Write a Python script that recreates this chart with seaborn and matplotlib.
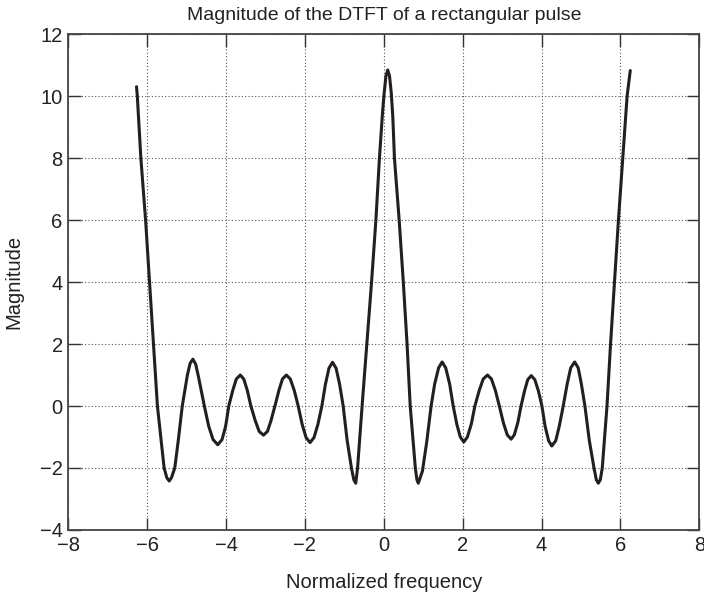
import matplotlib
matplotlib.use("Agg")
import matplotlib.pyplot as plt
import seaborn as sns
import pandas as pd

# Points (normalized frequency, magnitude)
freq = [
    -6.27, -6.25, -6.16, -6.04, -5.94, -5.84, -5.74, -5.57, -5.50, -5.44, -5.38, -5.30, -5.21, -5.11,
    -4.98, -4.91, -4.84, -4.77, -4.70, -4.55,
    -4.44, -4.33, -4.21, -4.10, -4.01, -3.93,
    -3.83, -3.74, -3.64, -3.55, -3.46, -3.37,
    -3.26, -3.16, -3.05, -2.95, -2.86, -2.76,
    -2.66, -2.57, -2.47, -2.37, -2.27, -2.17,
    -2.07, -1.97, -1.87, -1.77, -1.67, -1.57,
    -1.48, -1.39, -1.30, -1.21, -1.12, -1.03,
    -0.93, -0.82, -0.76, -0.71, -0.665, -0.55, -0.43, -0.31, -0.20, -0.11, -0.03, 0.01, 0.055, 0.10,
    0.145, 0.19, 0.23, 0.27, 0.39, 0.495, 0.59, 0.67, 0.80, 0.84, 0.875, 0.98, 1.09, 1.20,
    1.29, 1.39, 1.48, 1.57, 1.67, 1.76,
    1.85, 1.94, 2.03, 2.12, 2.22, 2.31,
    2.42, 2.52, 2.63, 2.73, 2.83, 2.93,
    3.03, 3.13, 3.23, 3.31, 3.40, 3.48,
    3.57, 3.65, 3.74, 3.83, 3.92, 4.01,
    4.09, 4.18, 4.26, 4.36, 4.45, 4.55,
    4.65, 4.74, 4.84, 4.93, 5.01, 5.10,
    5.21, 5.33, 5.39, 5.44, 5.49, 5.54, 5.66, 5.75, 5.85, 5.95, 6.06, 6.17, 6.25,
]
magnitude = [
    10.30, 10.00, 8.00, 6.00, 4.00, 2.00, 0.00, -2.00, -2.32, -2.42, -2.30, -2.00, -1.10, 0.00,
    1.00, 1.38, 1.51, 1.35, 0.95, 0.00,
    -0.65, -1.08, -1.25, -1.08, -0.65, 0.00,
    0.50, 0.87, 1.00, 0.87, 0.50, 0.00,
    -0.47, -0.82, -0.94, -0.82, -0.47, 0.00,
    0.50, 0.87, 1.00, 0.87, 0.50, 0.00,
    -0.59, -1.02, -1.18, -1.02, -0.59, 0.00,
    0.70, 1.22, 1.41, 1.22, 0.70, 0.00,
    -1.10, -2.00, -2.38, -2.49, -2.00, 0.00, 2.00, 4.00, 6.00, 8.00, 9.50, 10.10, 10.65, 10.84,
    10.65, 10.10, 9.30, 8.00, 6.00, 4.00, 2.00, 0.00, -2.00, -2.38, -2.49, -2.10, -1.15, 0.00,
    0.71, 1.23, 1.42, 1.23, 0.71, 0.00,
    -0.58, -1.00, -1.16, -1.00, -0.58, 0.00,
    0.50, 0.87, 1.00, 0.87, 0.50, 0.00,
    -0.53, -0.93, -1.07, -0.93, -0.53, 0.00,
    0.49, 0.85, 0.98, 0.85, 0.49, 0.00,
    -0.65, -1.12, -1.29, -1.12, -0.65, 0.00,
    0.71, 1.23, 1.42, 1.23, 0.71, 0.00,
    -1.10, -2.00, -2.38, -2.49, -2.38, -2.00, 0.00, 2.00, 4.00, 6.00, 8.00, 10.00, 10.82,
]
x_ticks = [-8, -6, -4, -2, 0, 2, 4, 6, 8]
y_ticks = [-4, -2, 0, 2, 4, 6, 8, 10, 12]

df = pd.DataFrame({"freq": freq, "mag": magnitude})

sns.set_style("white")
plt.rcParams["font.family"] = ["Liberation Sans", "DejaVu Sans"]

fig = plt.figure(figsize=(7.04, 5.99), dpi=100)
ax = fig.add_axes([0.097, 0.1152, 0.8963, 0.828])

sns.lineplot(data=df, x="freq", y="mag", sort=False, color="#231f20",
             linewidth=2.2, ax=ax, estimator=None)
for ln in ax.get_lines():
    ln.set_solid_joinstyle("round")
    ln.set_solid_capstyle("round")

ax.set_xlim(-8, 8)
ax.set_ylim(-4, 12)
ax.set_xticks(x_ticks)
ax.set_yticks(y_ticks)
ax.set_xticklabels([str(t).replace("-", "\u2212") for t in x_ticks])
ax.set_yticklabels([str(t).replace("-", "\u2212") for t in y_ticks])
ax.grid(True, linestyle=(0, (1, 2)), color="#555555", linewidth=0.8)
ax.tick_params(direction="in", length=9, width=1.0, colors="#333333",
               labelcolor="#222222", labelsize=14.5, top=True, right=True,
               bottom=True, left=True, pad=4)
for s in ax.spines.values():
    s.set_color("#444444")
    s.set_linewidth(1.3)

ax.set_title("Magnitude of the DTFT of a rectangular pulse", fontsize=14, color="#222222", pad=10)
ax.set_xlabel("Normalized frequency", fontsize=14.5, color="#222222", labelpad=13)
ax.set_ylabel("Magnitude", fontsize=14.5, color="#222222", labelpad=12)

fig.savefig("out.png", dpi=100)
